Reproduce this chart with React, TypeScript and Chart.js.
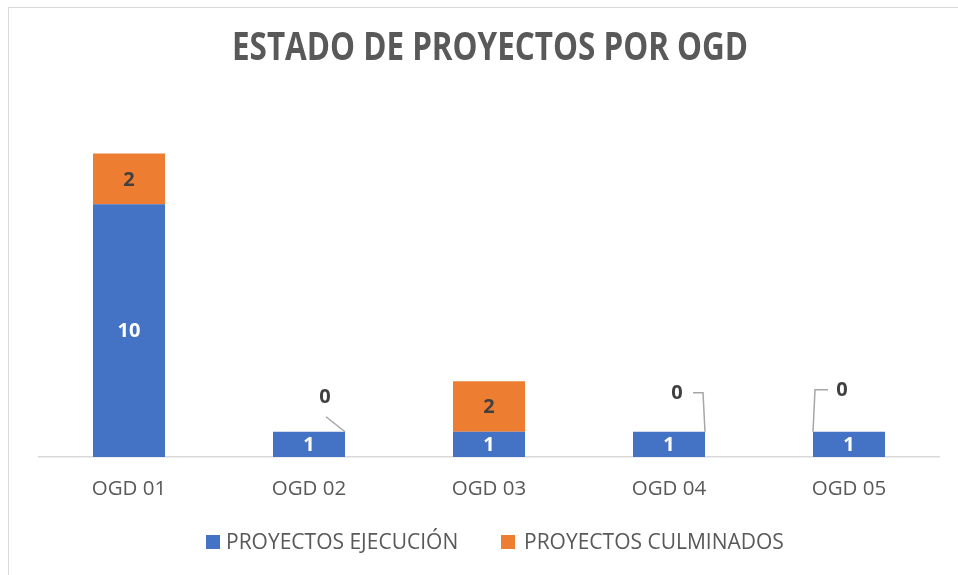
import React, { useEffect, useRef } from "react";
import { Chart, registerables } from "chart.js";

Chart.register(...registerables);

const CATEGORIES = ["OGD 01", "OGD 02", "OGD 03", "OGD 04", "OGD 05"];
const EJECUCION = [10, 1, 1, 1, 1];
const CULMINADOS = [2, 0, 2, 0, 0];
const SERIES_NAMES = ["PROYECTOS EJECUCIÓN", "PROYECTOS CULMINADOS"];
const TITLE = "ESTADO DE PROYECTOS POR OGD";

const BLUE = "#4472C4";
const ORANGE = "#ED7D31";
const TEXT = "#595959";
const DARK = "#404040";
const FONT = "'Open Sans', 'Noto Sans', sans-serif";

// placement of the zero-value labels (style only)
const ZERO_LABEL_STYLE: Record<number, { dx: number; dy: number; kind: string }> = {
  1: { dx: 16, dy: -34, kind: "diag" },
  3: { dx: 8, dy: -38, kind: "elbowRight" },
  4: { dx: -7, dy: -41, kind: "elbowLeft" },
};

const drawPlugin = {
  id: "customDraw",
  beforeDraw(chart: any) {
    const ctx = chart.ctx;
    ctx.save();
    ctx.fillStyle = "#ffffff";
    ctx.fillRect(0, 0, chart.width, chart.height);
    ctx.strokeStyle = "#d9d9d9";
    ctx.lineWidth = 1;
    ctx.strokeRect(8.5, 7.5, chart.width, chart.height);
    ctx.restore();
  },
  afterDraw(chart: any) {
    const ctx = chart.ctx;
    ctx.save();
    // title
    ctx.font = `bold 39px ${FONT}`;
    ctx.fillStyle = TEXT;
    ctx.textBaseline = "middle";
    ctx.textAlign = "center";
    const tw = ctx.measureText(TITLE).width;
    const sx = 516 / tw;
    ctx.save();
    ctx.translate(490, 49);
    ctx.scale(sx, 1);
    ctx.fillText(TITLE, 0, 0);
    ctx.restore();

    // data labels
    ctx.font = `bold 20px ${FONT}`;
    ctx.textAlign = "center";
    ctx.textBaseline = "middle";
    chart.data.datasets.forEach((ds: any, di: number) => {
      const meta = chart.getDatasetMeta(di);
      meta.data.forEach((bar: any, i: number) => {
        const v = ds.data[i];
        const half = bar.width / 2;
        if (v === 0) {
          const st = ZERO_LABEL_STYLE[i];
          if (!st) return;
          const lx = bar.x + st.dx;
          const ly = bar.y + st.dy;
          ctx.fillStyle = DARK;
          ctx.fillText(String(v), lx, ly);
          ctx.strokeStyle = "#a6a6a6";
          ctx.lineWidth = 1.5;
          ctx.beginPath();
          if (st.kind === "diag") {
            ctx.moveTo(lx + 1, ly + 19);
            ctx.lineTo(bar.x + half, bar.y);
          } else if (st.kind === "elbowRight") {
            ctx.moveTo(lx + 16, ly - 1);
            ctx.lineTo(bar.x + half - 2, ly - 1);
            ctx.lineTo(bar.x + half, bar.y);
          } else {
            ctx.moveTo(lx - 14, ly - 1);
            ctx.lineTo(bar.x - half + 2, ly - 1);
            ctx.lineTo(bar.x - half, bar.y);
          }
          ctx.stroke();
        } else {
          const cy = (bar.y + bar.base) / 2;
          ctx.fillStyle = di === 0 ? "#ffffff" : DARK;
          ctx.fillText(String(v), bar.x, cy + 1);
        }
      });
    });

    // legend
    ctx.font = `21px ${FONT}`;
    ctx.textAlign = "left";
    ctx.textBaseline = "middle";
    const items = [
      { x: 206, gap: 20, color: BLUE, label: SERIES_NAMES[0] },
      { x: 501, gap: 23, color: ORANGE, label: SERIES_NAMES[1] },
    ];
    items.forEach((it) => {
      ctx.fillStyle = it.color;
      ctx.fillRect(it.x, 535, 14, 14);
      ctx.fillStyle = TEXT;
      ctx.fillText(it.label, it.x + it.gap, 543);
    });
    ctx.restore();
  },
};

export default function App() {
  const ref = useRef<HTMLCanvasElement | null>(null);
  useEffect(() => {
    document.body.style.margin = "0";
    const canvas = ref.current!;
    const chart = new Chart(canvas, {
      type: "bar",
      data: {
        labels: CATEGORIES,
        datasets: [
          { label: SERIES_NAMES[0], data: EJECUCION, backgroundColor: BLUE, barPercentage: 0.4, categoryPercentage: 1 },
          { label: SERIES_NAMES[1], data: CULMINADOS, backgroundColor: ORANGE, barPercentage: 0.4, categoryPercentage: 1 },
        ],
      },
      options: {
        responsive: false,
        animation: false,
        devicePixelRatio: 1,
        layout: { padding: { left: 39, right: 19, top: 103, bottom: 0 } },
        plugins: { legend: { display: false }, title: { display: false }, tooltip: { enabled: false } },
        scales: {
          x: {
            stacked: true,
            grid: { display: false, drawTicks: false },
            border: { display: true, color: "#d9d9d9", width: 1.5 },
            ticks: { color: TEXT, font: { family: FONT, size: 20.5 }, padding: 20 },
            afterFit: (s: any) => {
              s.height = 118;
            },
          },
          y: {
            stacked: true,
            display: false,
            min: 0,
            max: 14,
          },
        },
      },
      plugins: [drawPlugin],
    });
    return () => chart.destroy();
  }, []);
  return <canvas ref={ref} width={958} height={575} style={{ display: "block", width: 958, height: 575 }} />;
}
